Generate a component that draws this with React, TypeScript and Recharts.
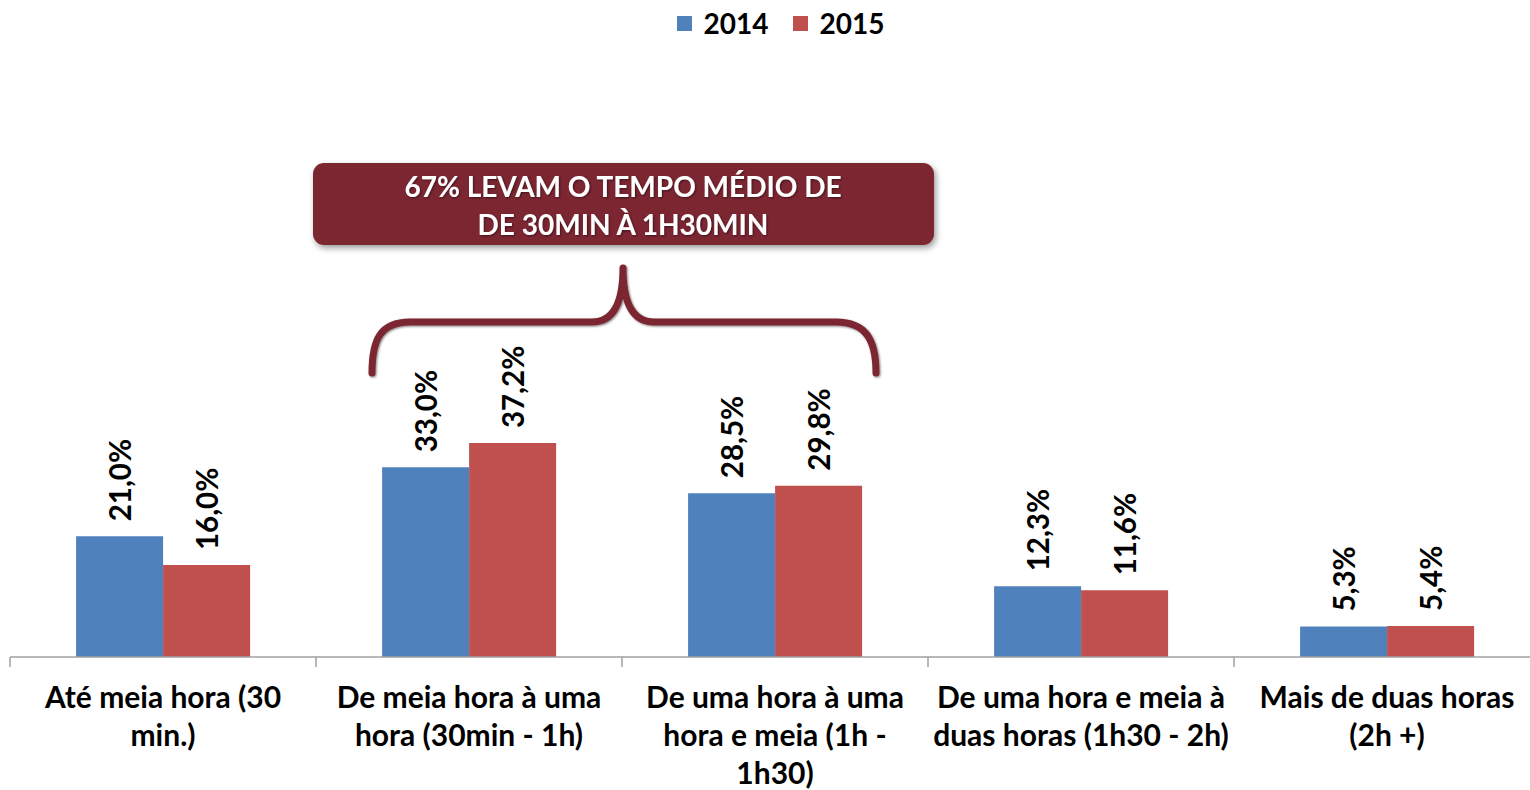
import { BarChart, Bar, XAxis, YAxis, Legend, LabelList } from 'recharts';

const categories = [
    ['Até meia hora (30', 'min.)'],
    ['De meia hora à uma', 'hora (30min - 1h)'],
    ['De uma hora à uma', 'hora e meia (1h -', '1h30)'],
    ['De uma hora e meia à', 'duas horas (1h30 - 2h)'],
    ['Mais de duas horas', '(2h +)'],
];
const values2014 = [21.0, 33.0, 28.5, 12.3, 5.3];
const values2015 = [16.0, 37.2, 29.8, 11.6, 5.4];
const seriesNames = ['2014', '2015'];

const data = categories.map((lines, i) => ({
    name: lines.join(' '),
    lines,
    y2014: values2014[i],
    y2015: values2015[i],
}));

const FONT = 'Lato, "Open Sans", sans-serif';
const BLUE = '#4F81BD';
const RED = '#C0504D';
const WINE = '#7B2832';
const BAND = 306;

const fmt = (v: number) => v.toFixed(1).replace('.', ',') + '%';

function AxisTick(props: any) {
    const { x, y, index } = props;
    const lines = categories[index] || [];
    return (
        <g>
            <line x1={x - BAND / 2} x2={x - BAND / 2} y1={y} y2={y + 10} stroke="#A0A0A0" strokeWidth={1.5} />
            {index === categories.length - 1 && (
                <line x1={x + BAND / 2} x2={x + BAND / 2} y1={y} y2={y + 10} stroke="#A0A0A0" strokeWidth={1.5} />
            )}
            <text x={x} y={y + 51} textAnchor="middle" fontFamily={FONT} fontWeight={700} fontSize={30} fill="#000">
                {lines.map((l: string, i: number) => (
                    <tspan key={i} x={x} dy={i === 0 ? 0 : 38}>{l}</tspan>
                ))}
            </text>
        </g>
    );
}

function ValueLabel(props: any) {
    const { x, y, width, value } = props;
    const cx = x + width / 2;
    const ty = y - 15;
    return (
        <text
            x={cx}
            y={ty}
            transform={`rotate(-90, ${cx}, ${ty})`}
            textAnchor="start"
            dominantBaseline="central"
            fontFamily={FONT}
            fontWeight={700}
            fontSize={29.5}
            fill="#000"
        >
            {fmt(value)}
        </text>
    );
}

function LegendContent(props: any) {
    const { payload } = props;
    return (
        <div style={{ display: 'flex', justifyContent: 'center', gap: 24, fontFamily: FONT, fontWeight: 700, fontSize: 28, lineHeight: '34px', paddingLeft: 31 }}>
            {(payload || []).map((p: any) => (
                <div key={p.value} style={{ display: 'flex', alignItems: 'center' }}>
                    <span style={{ width: 15, height: 15, background: p.color, display: 'inline-block', marginRight: 12 }} />
                    <span>{p.value}</span>
                </div>
            ))}
        </div>
    );
}

function Callout() {
    return (
        <svg width={1530} height={790} style={{ position: 'absolute', left: 0, top: 0, pointerEvents: 'none' }}>
            <defs>
                <filter id="sh" x="-10%" y="-20%" width="120%" height="150%">
                    <feDropShadow dx="2" dy="3" stdDeviation="3" floodColor="#000" floodOpacity="0.4" />
                </filter>
                <filter id="tsh">
                    <feDropShadow dx="1" dy="1" stdDeviation="1" floodColor="#000" floodOpacity="0.5" />
                </filter>
            </defs>
            <rect x={313} y={163} width={621} height={82} rx={11} fill={WINE} filter="url(#sh)" />
            <text textAnchor="middle" fontFamily={FONT} fontWeight={700} fontSize={28} fill="#fff" filter="url(#tsh)">
                <tspan x={623} y={197}>67% LEVAM O TEMPO MÉDIO DE</tspan>
                <tspan x={623} y={235}>DE 30MIN À 1H30MIN</tspan>
            </text>
            <path
                d="M372,373 C372,340 380,322 410,322 L592,322 C615,322 623,300 623,268 C623,300 631,322 654,322 L836,322 C866,322 876,340 876,373"
                fill="none"
                stroke={WINE}
                strokeWidth={7}
                strokeLinecap="round"
                strokeLinejoin="round"
                filter="url(#tsh)"
            />
        </svg>
    );
}

export default function App() {
    return (
        <div style={{ position: 'absolute', left: 0, top: 0, width: 1530, height: 790, overflow: 'hidden', background: '#fff' }}>
            <BarChart
                width={1540}
                height={790}
                data={data}
                margin={{ top: 82, right: 0, left: 10, bottom: 0 }}
                barCategoryGap="21.6%"
                barGap={0}
            >
                <XAxis
                    dataKey="name"
                    height={133}
                    interval={0}
                    tickLine={false}
                    tickSize={0}
                    tickMargin={0}
                    axisLine={{ stroke: '#A0A0A0', strokeWidth: 1.5 }}
                    tick={<AxisTick />}
                />
                <YAxis hide domain={[0, 100]} />
                <Legend verticalAlign="middle" align="center" wrapperStyle={{ top: 6, left: 0, width: 1530 }} content={<LegendContent />} />
                <Bar dataKey="y2014" name={seriesNames[0]} fill={BLUE} isAnimationActive={false}>
                    <LabelList dataKey="y2014" content={<ValueLabel />} />
                </Bar>
                <Bar dataKey="y2015" name={seriesNames[1]} fill={RED} isAnimationActive={false}>
                    <LabelList dataKey="y2015" content={<ValueLabel />} />
                </Bar>
            </BarChart>
            <Callout />
        </div>
    );
}
